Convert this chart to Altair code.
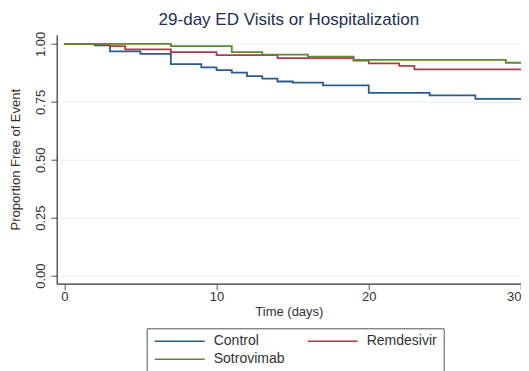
import altair as alt
import pandas as pd

groups = ["Control", "Remdesivir", "Sotrovimab"]
colors = ["#2b5b8c", "#b23a48", "#5b8a30"]

control_days = [0, 2, 3, 5, 7, 9, 10, 11, 12, 13, 14, 15, 17, 20, 24, 27, 30]
control_surv = [1.0, 0.994, 0.968, 0.957, 0.913, 0.899, 0.887, 0.876, 0.861, 0.850,
                0.838, 0.833, 0.821, 0.789, 0.778, 0.763, 0.763]

remdesivir_days = [0, 3, 4, 7, 10, 14, 19, 20, 22, 23, 30]
remdesivir_surv = [1.0, 0.991, 0.977, 0.965, 0.952, 0.939, 0.928, 0.916, 0.905, 0.890, 0.890]

sotrovimab_days = [0, 7, 11, 13, 16, 19, 29, 30]
sotrovimab_surv = [1.0, 0.991, 0.965, 0.954, 0.945, 0.931, 0.919, 0.919]

x_ticks = [0, 10, 20, 30]
y_ticks = [0.0, 0.25, 0.5, 0.75, 1.0]

rows = []
for name, ds, ss in [("Control", control_days, control_surv),
                     ("Remdesivir", remdesivir_days, remdesivir_surv),
                     ("Sotrovimab", sotrovimab_days, sotrovimab_surv)]:
    for d, s in zip(ds, ss):
        rows.append({"group": name, "day": d, "surv": s})
df = pd.DataFrame(rows)

FONT = "Liberation Sans"

chart = alt.Chart(df).mark_line(interpolate="step-after", strokeWidth=1.8, clip=True).encode(
    x=alt.X("day:Q",
            scale=alt.Scale(domain=[-0.5, 30.0], nice=False, zero=False),
            axis=alt.Axis(values=x_ticks, title="Time (days)", grid=False, format="d",
                          labelFont=FONT, labelFontSize=13, labelColor="#333333",
                          titleFont=FONT, titleFontSize=13, titleFontWeight="normal",
                          titleColor="#333333", titlePadding=2, labelPadding=1,
                          tickSize=6, tickColor="#555555", domainColor="#333333",
                          domainWidth=1.2, labelFlush=True, labelOverlap=False)),
    y=alt.Y("surv:Q",
            scale=alt.Scale(domain=[-0.035, 1.04], nice=False, zero=False),
            axis=alt.Axis(values=y_ticks, format=".2f", title="Proportion Free of Event",
                          labelAngle=270, labelAlign="center", labelBaseline="bottom",
                          labelFont=FONT, labelFontSize=13, labelColor="#333333",
                          labelPadding=3, tickSize=6, tickColor="#555555",
                          domainColor="#333333", domainWidth=1.2,
                          titleFont=FONT, titleFontSize=13, titleFontWeight="normal",
                          titleColor="#333333", titlePadding=12,
                          grid=True, gridColor="#e6eff0", gridWidth=1)),
    color=alt.Color("group:N",
                    scale=alt.Scale(domain=groups, range=colors),
                    legend=alt.Legend(title=None, orient="none", legendX=90, legendY=293.6,
                                      columns=2, direction="horizontal",
                                      columnPadding=20, rowPadding=4,
                                      symbolType="M-1,0H9", symbolSize=100,
                                      symbolStrokeWidth=1.5, labelOffset=47,
                                      labelFont=FONT, labelFontSize=14,
                                      labelColor="#333333", strokeColor="#555555",
                                      padding=6, fillColor="white"))
).properties(
    width=464.3, height=249,
    title=alt.TitleParams("29-day ED Visits or Hospitalization", font=FONT, fontSize=17,
                          fontWeight="normal", color="#1e2f52", offset=2.5, anchor="middle"),
    autosize=alt.AutoSizeParams(type="none"),
    padding={"left": 48.7, "top": 26.7, "right": 0, "bottom": 87.3}
).configure_view(stroke=None)

chart.save("out.html", embed_options={"renderer": "svg", "actions": False})
